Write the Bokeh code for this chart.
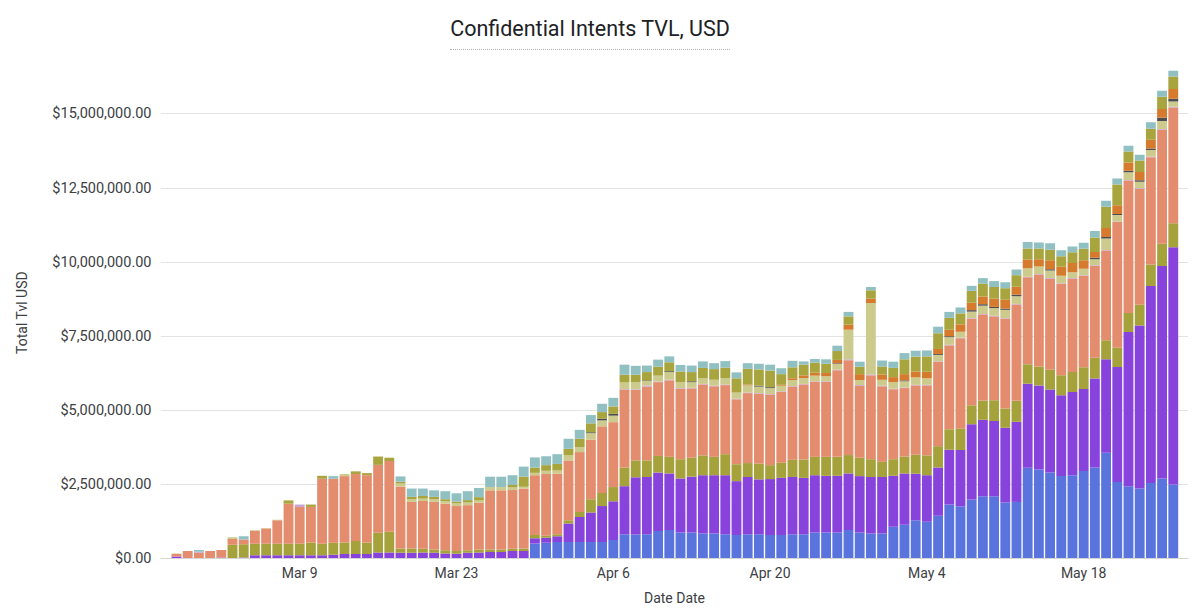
import pandas as pd
from bokeh.plotting import figure
from bokeh.models import ColumnDataSource, FixedTicker, NumeralTickFormatter, Div, Range1d
from bokeh.layouts import column
from bokeh.embed import file_html
from bokeh.resources import INLINE

# ---------------- data (values in millions USD) ----------------
start_date = "2025-02-26"
n_days = 90
dates = pd.date_range(start_date, periods=n_days, freq="D")

tick_labels = ["Mar 9", "Mar 23", "Apr 6", "Apr 20", "May 4", "May 18"]

blue = [
    0, 0, 0, 0, 0, 0, 0, 0, 0, 0,
    0, 0, 0, 0, 0, 0, 0, 0, 0, 0,
    0, 0, 0, 0, 0, 0, 0, 0, 0, 0,
    0, 0, 0.51, 0.53, 0.56, 0.56, 0.56, 0.56, 0.56, 0.62,
    0.82, 0.81, 0.82, 0.93, 0.96, 0.88, 0.88, 0.84, 0.84, 0.82,
    0.79, 0.82, 0.82, 0.79, 0.79, 0.82, 0.82, 0.88, 0.88, 0.88,
    0.96, 0.88, 0.84, 0.84, 1.07, 1.14, 1.29, 1.24, 1.44, 1.82,
    1.76, 1.99, 2.10, 2.10, 1.89, 1.91, 3.06, 3.00, 2.90, 2.78,
    2.81, 2.95, 3.07, 3.57, 2.58, 2.44, 2.36, 2.55, 2.70, 2.50]

purple = [
    0.07, 0.01, 0, 0, 0.03, 0.01, 0.03, 0.11, 0.11, 0.11,
    0.11, 0.11, 0.11, 0.11, 0.13, 0.15, 0.15, 0.15, 0.20, 0.20,
    0.19, 0.19, 0.20, 0.19, 0.17, 0.16, 0.19, 0.20, 0.22, 0.22,
    0.25, 0.25, 0.17, 0.17, 0.19, 0.62, 0.84, 0.99, 1.21, 1.31,
    1.62, 1.93, 1.93, 1.97, 1.91, 1.82, 1.88, 1.97, 1.97, 1.99,
    1.82, 1.93, 1.85, 1.89, 1.93, 1.93, 1.90, 1.93, 1.91, 1.91,
    1.91, 1.90, 1.91, 1.91, 1.72, 1.73, 1.57, 1.57, 1.63, 1.85,
    1.90, 2.54, 2.58, 2.54, 2.52, 2.70, 2.84, 2.84, 2.80, 2.73,
    2.81, 2.77, 3.00, 3.15, 3.88, 5.20, 5.50, 6.64, 7.17, 8.00]

olive = [
    0, 0, 0, 0, 0, 0.45, 0.45, 0.39, 0.39, 0.39,
    0.39, 0.39, 0.43, 0.39, 0.40, 0.39, 0.44, 0.39, 0.67, 0.70,
    0.15, 0.15, 0.13, 0.11, 0.11, 0.09, 0.09, 0.10, 0.08, 0.08,
    0.08, 0.09, 0.11, 0.07, 0.07, 0.11, 0.17, 0.45, 0.44, 0.48,
    0.63, 0.57, 0.56, 0.56, 0.56, 0.65, 0.64, 0.67, 0.62, 0.71,
    0.57, 0.47, 0.53, 0.47, 0.51, 0.58, 0.62, 0.62, 0.64, 0.64,
    0.62, 0.62, 0.60, 0.51, 0.56, 0.57, 0.64, 0.67, 0.72, 0.69,
    0.73, 0.64, 0.65, 0.70, 0.65, 0.71, 0.65, 0.64, 0.67, 0.67,
    0.67, 0.73, 0.70, 0.64, 0.65, 0.64, 0.70, 0.73, 0.75, 0.81]

salmon = [
    0.08, 0.24, 0.19, 0.25, 0.26, 0.20, 0.16, 0.43, 0.51, 0.79,
    1.35, 1.24, 1.20, 2.19, 2.16, 2.24, 2.26, 2.27, 2.29, 2.39,
    2.08, 1.57, 1.61, 1.61, 1.57, 1.52, 1.52, 1.58, 2.00, 2.00,
    1.98, 2.02, 2.02, 2.08, 2.04, 2.02, 2.02, 2.01, 2.25, 2.19,
    2.63, 2.38, 2.49, 2.49, 2.58, 2.38, 2.34, 2.39, 2.38, 2.33,
    2.19, 2.36, 2.36, 2.38, 2.39, 2.47, 2.53, 2.53, 2.53, 2.92,
    3.20, 2.42, 2.83, 2.55, 2.36, 2.31, 2.34, 2.36, 2.84, 2.83,
    3.04, 2.92, 2.90, 2.83, 3.03, 3.25, 2.94, 3.10, 3.07, 3.09,
    3.15, 3.09, 3.10, 3.03, 4.24, 4.47, 3.91, 3.62, 3.84, 3.91]

lilac = [
    0, 0, 0.04, 0, 0, 0, 0, 0, 0, 0,
    0, 0.08, 0, 0, 0, 0, 0, 0, 0, 0,
    0, 0, 0, 0, 0, 0, 0, 0, 0, 0,
    0, 0, 0, 0, 0, 0, 0, 0, 0, 0,
    0.02, 0.02, 0.04, 0.02, 0.02, 0.02, 0.02, 0.02, 0.02, 0.02,
    0.02, 0.02, 0.02, 0.02, 0.02, 0.02, 0.02, 0.02, 0.02, 0.02,
    0.03, 0.03, 0.03, 0.02, 0.02, 0.02, 0.02, 0.02, 0.02, 0.02,
    0.02, 0.02, 0.02, 0.02, 0.02, 0.02, 0.02, 0.02, 0.02, 0.02,
    0.02, 0.02, 0.02, 0.02, 0.02, 0.02, 0.02, 0.02, 0.02, 0.02]

khaki = [
    0.02, 0, 0, 0, 0, 0.06, 0, 0.02, 0.02, 0.02,
    0, 0, 0, 0, 0, 0.07, 0, 0, 0, 0,
    0.11, 0.09, 0.08, 0.09, 0.09, 0.09, 0.09, 0.08, 0.11, 0.11,
    0.09, 0.06, 0.08, 0.11, 0.11, 0.17, 0.17, 0.22, 0.20, 0.22,
    0.22, 0.24, 0.15, 0.20, 0.26, 0.20, 0.19, 0.19, 0.20, 0.22,
    0.21, 0.24, 0.22, 0.20, 0.19, 0.20, 0.20, 0.19, 0.17, 0.20,
    1.00, 0.17, 2.41, 0.20, 0.22, 0.21, 0.25, 0.22, 0.22, 0.26,
    0.20, 0.22, 0.28, 0.26, 0.28, 0.26, 0.28, 0.25, 0.26, 0.25,
    0.20, 0.22, 0.21, 0.39, 0.22, 0.26, 0.22, 0.22, 0.28, 0.18]

dark = [
    0, 0, 0, 0, 0, 0, 0, 0, 0, 0,
    0, 0, 0, 0, 0, 0, 0, 0, 0, 0,
    0, 0, 0, 0, 0, 0, 0, 0, 0, 0,
    0, 0, 0, 0, 0, 0, 0, 0.03, 0.06, 0.06,
    0, 0, 0.02, 0, 0.03, 0, 0.03, 0, 0, 0,
    0, 0, 0.03, 0.03, 0, 0, 0, 0, 0, 0.02,
    0, 0, 0, 0, 0, 0.03, 0, 0, 0.03, 0.03,
    0, 0.05, 0.05, 0.04, 0.04, 0.05, 0, 0, 0.04, 0,
    0, 0, 0.05, 0.05, 0.03, 0.05, 0.05, 0.05, 0.11, 0.09]

orange = [
    0, 0, 0, 0, 0, 0, 0, 0, 0, 0,
    0, 0, 0, 0, 0, 0, 0, 0, 0, 0,
    0, 0, 0, 0, 0, 0, 0, 0, 0, 0,
    0, 0, 0, 0, 0, 0, 0, 0, 0, 0,
    0, 0, 0, 0, 0, 0, 0, 0, 0, 0,
    0, 0.03, 0, 0, 0.03, 0.06, 0.09, 0.10, 0.11, 0.11,
    0.17, 0.20, 0.15, 0.18, 0.17, 0.21, 0.20, 0.22, 0.17, 0.22,
    0.25, 0.25, 0.26, 0.28, 0.30, 0.27, 0.30, 0.25, 0.30, 0.30,
    0.31, 0.28, 0.19, 0.30, 0.30, 0.28, 0.28, 0.30, 0.30, 0.33]

olive2 = [
    0, 0, 0, 0, 0, 0, 0, 0, 0, 0,
    0.11, 0, 0.08, 0.10, 0, 0, 0.09, 0.07, 0.28, 0.11,
    0.06, 0.08, 0.09, 0.08, 0.06, 0.06, 0.08, 0.11, 0, 0,
    0.08, 0.34, 0.18, 0.19, 0.22, 0.22, 0.28, 0.30, 0.22, 0.25,
    0.26, 0.25, 0.28, 0.30, 0.30, 0.36, 0.31, 0.35, 0.36, 0.35,
    0.48, 0.53, 0.55, 0.56, 0.36, 0.37, 0.36, 0.34, 0.31, 0.30,
    0.28, 0.25, 0.28, 0.27, 0.31, 0.50, 0.50, 0.52, 0.53, 0.40,
    0.37, 0.40, 0.43, 0.39, 0.39, 0.39, 0.37, 0.36, 0.36, 0.36,
    0.36, 0.39, 0.49, 0.72, 0.70, 0.37, 0.39, 0.37, 0.41, 0.42]

teal = [
    0, 0, 0.06, 0, 0, 0, 0.11, 0, 0, 0,
    0, 0, 0, 0, 0.09, 0, 0, 0, 0, 0,
    0.18, 0.28, 0.25, 0.22, 0.27, 0.28, 0.30, 0.31, 0.35, 0.35,
    0.33, 0.34, 0.34, 0.30, 0.33, 0.34, 0.30, 0.28, 0.28, 0.29,
    0.34, 0.30, 0.22, 0.24, 0.20, 0.22, 0.22, 0.22, 0.20, 0.22,
    0.20, 0.19, 0.19, 0.20, 0.20, 0.22, 0.11, 0.12, 0.15, 0.18,
    0.15, 0.17, 0.11, 0.20, 0.21, 0.21, 0.20, 0.20, 0.22, 0.20,
    0.20, 0.17, 0.19, 0.20, 0.20, 0.19, 0.22, 0.20, 0.22, 0.20,
    0.20, 0.20, 0.22, 0.20, 0.20, 0.20, 0.19, 0.22, 0.20, 0.20]

series_names = ["blue", "purple", "olive", "salmon", "lilac",
                "khaki", "dark", "orange", "olive2", "teal"]
series_values = [blue, purple, olive, salmon, lilac,
                 khaki, dark, orange, olive2, teal]
series_colors = ["#5A74DE", "#8843DC", "#A5A23C", "#E38C6E", "#C9A3CF",
                 "#CCCA8C", "#4E4E52", "#D67A2E", "#A8A43E", "#91C0C2"]

# ---------------- build ----------------
FONT = "Roboto"
x = list(range(n_days))
date_labels = [d.strftime("%b ") + str(d.day) for d in dates]
data = {"x": x}
for name, vals in zip(series_names, series_values):
    data[name] = [v * 1e6 for v in vals]
source = ColumnDataSource(data)

tick_pos = [date_labels.index(t) for t in tick_labels]

p = figure(width=1200, height=563, output_backend="svg", toolbar_location=None,
           x_range=Range1d(-1.43, 90.36), y_range=Range1d(0, 16.6e6),
           min_border_left=160, min_border_right=12, min_border_top=16,
           min_border_bottom=55, margin=(0, 0, 0, 0))
p.vbar_stack(series_names, x="x", width=0.88, color=series_colors,
             line_color=None, source=source)

p.outline_line_color = None
p.background_fill_color = "white"
p.border_fill_color = "white"
p.xgrid.grid_line_color = None
p.ygrid.grid_line_color = "#e3e3e3"
p.ygrid.grid_line_width = 1

p.yaxis.ticker = FixedTicker(ticks=[0, 2.5e6, 5e6, 7.5e6, 10e6, 12.5e6, 15e6])
p.yaxis.formatter = NumeralTickFormatter(format="$0,0.00")
p.xaxis.ticker = FixedTicker(ticks=tick_pos)
p.xaxis.major_label_overrides = {pos: lab for pos, lab in zip(tick_pos, tick_labels)}

for ax in (p.xaxis[0], p.yaxis[0]):
    ax.major_tick_line_color = None
    ax.minor_tick_line_color = None
    ax.major_tick_out = 0
    ax.major_tick_in = 0
    ax.minor_tick_out = 0
    ax.major_label_text_font = FONT
    ax.major_label_text_font_size = "14px"
    ax.major_label_text_color = "#3c4043"
    ax.axis_label_text_font = FONT
    ax.axis_label_text_font_size = "14px"
    ax.axis_label_text_font_style = "normal"
    ax.axis_label_text_color = "#3c4043"

p.yaxis.major_label_text_font_size = "14.5px"
p.yaxis.axis_line_color = None
p.yaxis.major_label_standoff = 9
p.yaxis.axis_label = "Total Tvl USD"
p.yaxis.axis_label_standoff = 19
p.xaxis.axis_line_color = "#d6d6d6"
p.xaxis.major_label_standoff = 6
p.xaxis.axis_label = "Date Date"
p.xaxis.axis_label_standoff = 6

title = Div(
    text='<div style="width:1180px;text-align:center;">'
         '<span style="display:inline-block;font-family:Roboto;font-size:21.5px;'
         'color:#202124;line-height:26px;padding-top:16px;padding-bottom:7px;'
         'border-bottom:1px dotted #b5b5b5;">Confidential Intents TVL, USD</span></div>',
    width=1200, height=50, margin=(0, 0, 0, 0))

layout = column(title, p, spacing=0)
open("out.html", "w").write(file_html(layout, INLINE))
